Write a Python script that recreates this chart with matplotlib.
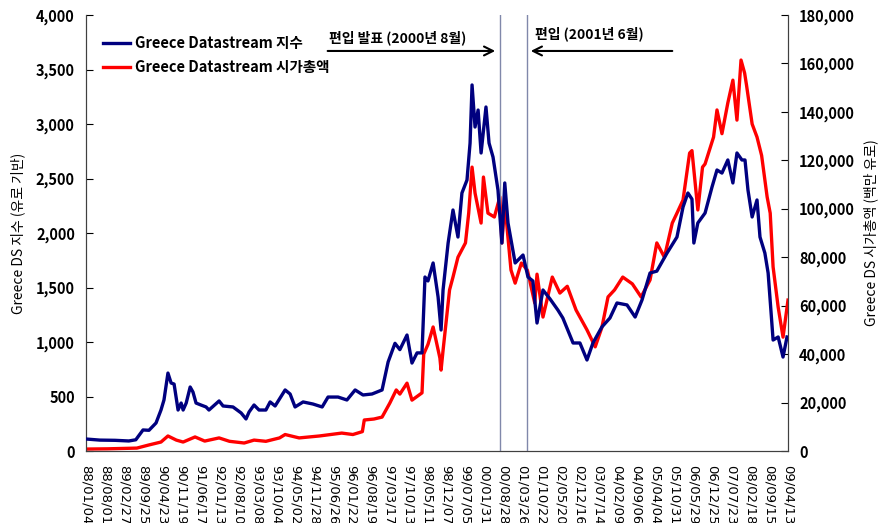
import matplotlib
matplotlib.use("Agg")
import matplotlib.pyplot as plt
import matplotlib.dates as mdates
import pandas as pd
from matplotlib.lines import Line2D

plt.rcParams['font.family'] = ['Noto Sans CJK KR', 'DejaVu Sans']

# ---- data ----
index_dates = ['1988-01-04', '1988-06-05', '1988-11-20', '1989-04-22', '1989-07-08', '1989-09-26',
               '1989-12-01', '1990-02-17', '1990-04-13', '1990-05-16', '1990-06-29', '1990-08-03',
               '1990-09-05', '1990-10-19', '1990-11-22', '1990-12-14', '1991-01-17', '1991-03-02',
               '1991-04-02', '1991-05-06', '1991-06-29', '1991-08-25', '1991-09-26', '1992-01-16',
               '1992-02-29', '1992-06-18', '1992-09-16', '1992-11-09', '1992-12-13', '1993-02-06',
               '1993-04-02', '1993-06-17', '1993-08-03', '1993-09-27', '1994-01-16', '1994-03-12',
               '1994-05-06', '1994-08-03', '1994-11-20', '1995-03-02', '1995-05-06', '1995-08-25',
               '1995-12-01', '1996-03-01', '1996-05-27', '1996-09-04', '1996-12-24', '1997-03-01',
               '1997-05-16', '1997-07-09', '1997-09-26', '1997-11-20', '1998-01-15', '1998-03-11',
               '1998-04-13', '1998-05-16', '1998-07-12', '1998-09-05', '1998-10-08', '1998-10-30',
               '1998-12-25', '1999-02-17', '1999-04-13', '1999-05-27', '1999-07-22', '1999-08-25',
               '1999-09-16', '1999-10-19', '1999-11-22', '1999-12-25', '2000-02-17', '2000-03-22',
               '2000-05-05', '2000-06-29', '2000-08-11', '2000-09-12', '2000-10-18', '2001-01-05',
               '2001-04-02', '2001-05-27', '2001-07-20', '2001-09-04', '2001-11-09', '2002-01-26',
               '2002-04-23', '2002-06-17', '2002-10-08', '2002-12-23', '2003-03-11', '2003-05-16',
               '2003-08-23', '2003-11-20', '2004-02-06', '2004-05-27', '2004-08-25', '2004-11-09',
               '2005-02-06', '2005-04-22', '2005-08-13', '2005-12-01', '2006-02-06', '2006-04-01',
               '2006-05-16', '2006-06-06', '2006-07-20', '2006-10-08', '2006-12-24', '2007-02-17',
               '2007-04-13', '2007-06-17', '2007-08-12', '2007-09-26', '2007-11-20', '2007-12-24',
               '2008-01-26', '2008-03-12', '2008-05-05', '2008-06-07', '2008-07-31', '2008-09-05',
               '2008-10-08', '2008-10-30', '2008-12-25', '2009-02-17', '2009-04-02']
index_vals = [110, 100, 98, 92, 103, 193,
              190, 257, 376, 468, 715, 624,
              614, 376, 440, 376, 440, 587,
              541, 440, 422, 404, 376, 459,
              413, 404, 349, 294, 358, 422,
              376, 376, 450, 413, 560, 523,
              404, 450, 431, 404, 495, 495,
              468, 560, 514, 523, 560, 817,
              988, 930, 1064, 807, 900, 900,
              1596, 1560, 1725, 1413, 1110, 1477,
              1908, 2211, 1963, 2367, 2486, 2825,
              3358, 2972, 3128, 2734, 3156, 2825,
              2697, 2394, 1908, 2459, 2092, 1725,
              1798, 1596, 1560, 1174, 1477, 1395,
              1293, 1220, 991, 991, 835, 991,
              1138, 1220, 1358, 1340, 1229, 1385,
              1633, 1650, 1816, 1963, 2238, 2367,
              2311, 1908, 2092, 2183, 2422, 2578,
              2550, 2670, 2459, 2734, 2670, 2670,
              2394, 2147, 2303, 1963, 1816, 1633,
              1266, 1018, 1046, 862, 1046]

mcap_dates = ['1988-01-04', '1988-09-01', '1989-07-20', '1989-12-01', '1990-04-13', '1990-06-29',
              '1990-09-30', '1990-12-14', '1991-04-25', '1991-08-10', '1992-01-16', '1992-05-10',
              '1992-10-20', '1993-02-06', '1993-06-17', '1993-11-15', '1994-01-16', '1994-06-20',
              '1995-01-30', '1995-10-05', '1996-02-05', '1996-05-20', '1996-06-10', '1996-09-25',
              '1996-12-24', '1997-03-20', '1997-05-30', '1997-07-09', '1997-09-26', '1997-11-20',
              '1998-03-11', '1998-03-30', '1998-05-16', '1998-07-12', '1998-09-25', '1998-10-08',
              '1998-10-30', '1999-01-10', '1999-02-17', '1999-04-13', '1999-07-05', '1999-08-10',
              '1999-09-16', '1999-10-19', '1999-12-25', '2000-01-20', '2000-03-10', '2000-05-20',
              '2000-07-20', '2000-08-11', '2000-09-12', '2000-11-20', '2001-01-05', '2001-03-15',
              '2001-05-20', '2001-08-10', '2001-09-04', '2001-11-09', '2002-02-20', '2002-05-15',
              '2002-08-05', '2002-11-10', '2003-03-11', '2003-06-10', '2003-08-23', '2003-10-30',
              '2004-01-10', '2004-04-10', '2004-07-25', '2004-10-30', '2005-02-06', '2005-04-22',
              '2005-07-15', '2005-10-10', '2005-12-01', '2006-02-06', '2006-04-20', '2006-05-16',
              '2006-07-20', '2006-09-10', '2006-10-08', '2007-01-10', '2007-02-17', '2007-04-13',
              '2007-06-17', '2007-08-12', '2007-09-26', '2007-11-10', '2007-12-20', '2008-01-10',
              '2008-03-12', '2008-05-05', '2008-06-25', '2008-08-25', '2008-09-28', '2008-10-30',
              '2008-12-25', '2009-02-17', '2009-04-13']
mcap_vals = [800, 900, 1200, 2500, 3700, 6200,
             4500, 3700, 5800, 4100, 5400, 4000,
             3300, 4500, 4000, 5400, 6800, 5400,
             6200, 7400, 6800, 8000, 12800, 13200,
             14000, 19800, 25200, 23500, 28000, 21000,
             24000, 40000, 44000, 51200, 38400, 33400,
             41500, 66500, 71800, 80000, 85900, 98200,
             117200, 106500, 94100, 113100, 98200, 96600,
             104900, 85900, 102400, 74700, 69300, 77600,
             74700, 61100, 73000, 55300, 71800, 65200,
             68000, 58200, 50000, 43000, 51000, 63600,
             66500, 71800, 69000, 63600, 70600, 85900,
             80000, 94100, 98200, 103600, 123000, 124000,
             99500, 117200, 118500, 129600, 140800, 131000,
             143700, 153100, 136600, 161400, 156000, 151000,
             135000, 129600, 122000, 104900, 98200, 76000,
             59400, 47000, 62300]

tick_start = '1988-01-04'
tick_count = 38
tick_step_days = 210

event_dates = ['2000-07-21', '2001-05-16']
announce_text = '편입 발표 (2000년 8월)'
inclusion_text = '편입 (2001년 6월)'
index_label = 'Greece Datastream 지수'
mcap_label = 'Greece Datastream 시가총액'

# ---- figure ----
fig = plt.figure(figsize=(8.82, 5.23), dpi=100)
ax = fig.add_axes([86 / 882, 72 / 523, 702 / 882, 436 / 523])
ax2 = ax.twinx()

idx_x = pd.to_datetime(index_dates)
mc_x = pd.to_datetime(mcap_dates)

ax.plot(idx_x, index_vals, color='#00007f', lw=2.4, zorder=3)
ax2.plot(mc_x, mcap_vals, color='#ff0000', lw=2.4, zorder=2)
ax.set_zorder(ax2.get_zorder() + 1)
ax.patch.set_visible(False)

ticks = pd.date_range(tick_start, periods=tick_count, freq=f'{tick_step_days}D')
ax.set_xlim(ticks[0], ticks[-1])
ax.set_xticks(ticks)
ax.set_xticklabels([t.strftime('%y/%m/%d') for t in ticks], rotation=270,
                   fontsize=9.5, family=['DejaVu Sans'])
ax.tick_params(axis='x', length=0, pad=10)

ax.set_ylim(0, 4000)
ax.set_yticks(range(0, 4001, 500))
ax.set_yticklabels([f'{v:,}' for v in range(0, 4001, 500)], fontsize=10.5, fontweight='bold')
ax.tick_params(axis='y', direction='in', length=5, pad=8)
ax2.set_ylim(0, 180000)
ax2.set_yticks(range(0, 180001, 20000))
ax2.set_yticklabels([f'{v:,}' for v in range(0, 180001, 20000)], fontsize=10.5, fontweight='bold')
ax2.tick_params(axis='y', direction='in', length=5, pad=8)

for a in (ax, ax2):
    a.spines['top'].set_visible(False)
    for s in ('left', 'right', 'bottom'):
        a.spines[s].set_color('#404040')

ax.set_ylabel('Greece DS 지수 (유로 기반)', fontsize=10, labelpad=8)
ax2.set_ylabel('Greece DS 시가총액 (백만 유로)', fontsize=10, labelpad=6)

for d in event_dates:
    ax.axvline(pd.Timestamp(d), color='#8088aa', lw=1.0, zorder=1)

# annotations
ax.annotate('', xy=(pd.Timestamp('2000-06-29'), 3670), xytext=(pd.Timestamp('1995-04-01'), 3670),
            arrowprops=dict(arrowstyle='->', color='black', lw=1.5, mutation_scale=16))
ax.text(pd.Timestamp('1995-05-20'), 3720, announce_text, fontsize=10, fontweight='bold', va='bottom')
ax.annotate('', xy=(pd.Timestamp('2001-05-27'), 3670), xytext=(pd.Timestamp('2005-11-10'), 3670),
            arrowprops=dict(arrowstyle='->', color='black', lw=1.5, mutation_scale=16))
ax.text(pd.Timestamp('2001-08-10'), 3760, inclusion_text, fontsize=10, fontweight='bold', va='bottom')

handles = [Line2D([], [], color='#00007f', lw=2.4), Line2D([], [], color='#ff0000', lw=2.4)]
ax.legend(handles, [index_label, mcap_label], loc='upper left', bbox_to_anchor=(0.005, 0.985),
          frameon=False, handlelength=1.9, handletextpad=0.3, labelspacing=0.6,
          prop=dict(size=10.5, weight='bold'))

fig.savefig('out.png', dpi=100)
